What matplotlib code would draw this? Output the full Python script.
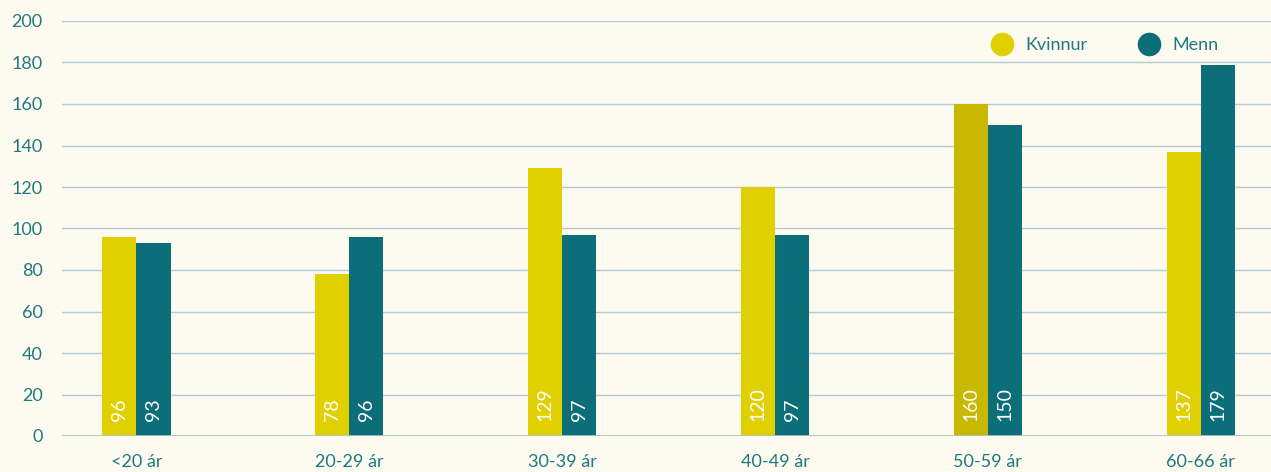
import matplotlib.pyplot as plt
from matplotlib.lines import Line2D

# aldursbólkar og tal
categories = ['<20 ár', '20-29 ár', '30-39 ár', '40-49 ár', '50-59 ár', '60-66 ár']
kvinnur = [96, 78, 129, 120, 160, 137]
menn = [93, 96, 97, 97, 150, 179]
yticks = [0, 20, 40, 60, 80, 100, 120, 140, 160, 180, 200]

yellow = '#e0d000'
yellow_dark = '#c8b900'
teal = '#0b6e78'
text_col = '#1f7a80'
bg = '#fdfaf0'
grid_col = '#b0ccd0'

plt.rcParams['font.family'] = ['Lato', 'DejaVu Sans']

fig = plt.figure(figsize=(12.71, 4.72), dpi=100, facecolor=bg)
ax = fig.add_axes([62 / 1271, 36 / 472, 1209 / 1271, 415 / 472], facecolor=bg)

x = list(range(len(categories)))
w = 0.16
k_colors = [yellow_dark if c == '50-59 ár' else yellow for c in categories]
ax.bar([i - w / 2 for i in x], kvinnur, width=w, color=k_colors, zorder=3)
ax.bar([i + w / 2 for i in x], menn, width=w, color=teal, zorder=3)

# tal inni í súlunum
for i in x:
    for xx, v in ((i - w / 2, kvinnur[i]), (i + w / 2, menn[i])):
        ax.annotate(str(v), (xx, 0), xytext=(0, 11), textcoords='offset points',
                    rotation=90, ha='center', va='bottom', color='white',
                    fontsize=14, zorder=4)

ax.set_xlim(-0.35, 5.33)
ax.set_ylim(0, 200)
ax.set_yticks(yticks)
ax.set_xticks(x)
ax.set_xticklabels(categories)
ax.tick_params(axis='both', length=0, colors=text_col, labelsize=13)
ax.tick_params(axis='x', pad=13)
ax.tick_params(axis='y', pad=14)
ax.grid(axis='y', color=grid_col, linewidth=1, zorder=0)
ax.axhline(0, color='#a8c4ca', linewidth=2, zorder=5)
for s in ax.spines.values():
    s.set_visible(False)

handles = [Line2D([], [], marker='o', linestyle='none', markersize=16, color=yellow),
           Line2D([], [], marker='o', linestyle='none', markersize=16, color=teal)]
leg = ax.legend(handles, ['Kvinnur', 'Menn'], ncol=2, frameon=False,
                loc='upper right', bbox_to_anchor=(0.97, 1.0),
                fontsize=13, handletextpad=0.3, columnspacing=2.4)
for t in leg.get_texts():
    t.set_color(text_col)

fig.savefig('out.png', dpi=100, facecolor=bg)
